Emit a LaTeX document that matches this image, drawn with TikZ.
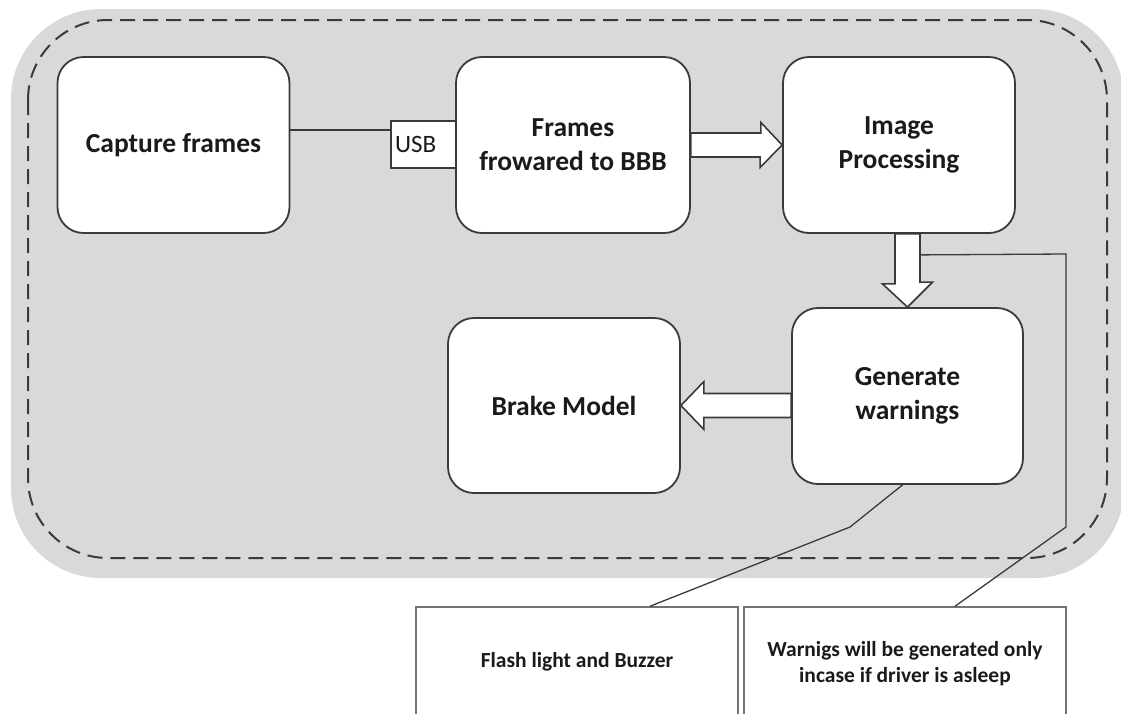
\documentclass[tikz,border=0pt]{standalone}
\usepackage{fontspec}
\setmainfont{Carlito}
\usetikzlibrary{calc}
\definecolor{bgfill}{HTML}{D9D9D9}
\definecolor{edgecol}{HTML}{3A3A3A}
\definecolor{txtcol}{HTML}{1A1A1A}
\begin{document}
\begin{tikzpicture}[x=1pt,y=-1pt,
  box/.style={draw=edgecol, line width=1.8pt, rounded corners=26pt, fill=white,
    minimum width=232pt, minimum height=176pt, inner sep=0pt, align=center,
    text=txtcol, font=\fontsize{27.5}{34}\selectfont\bfseries},
  usbbox/.style={draw=edgecol, line width=1.5pt, fill=white, text width=57pt,
    minimum height=47pt, inner xsep=4pt, inner ysep=0pt, align=left, text=txtcol,
    font=\fontsize{25}{28}\selectfont},
  callout/.style={draw=black!55, line width=1.5pt, fill=white, minimum width=322pt,
    minimum height=130pt, inner sep=0pt},
  callouttext/.style={align=center, text=txtcol, inner sep=0pt,
    font=\fontsize{21.5}{26}\selectfont\bfseries},
  blockarrow/.style={draw=edgecol, line width=1.6pt, fill=white, line join=miter},
  conn/.style={draw=edgecol, line width=1.3pt}
]
\useasboundingbox (0,0) rectangle (1121,713);
% background panel
\fill[bgfill, rounded corners=90pt] (11,9) rectangle (1124,578);
\draw[edgecol, line width=2pt, dash pattern=on 15pt off 8pt, rounded corners=80pt]
  (28,20) rectangle (1107,558);

% process boxes
\node[box] (cap) at (173.5,145) {Capture frames};
\node[box, minimum width=234pt] (fwd) at (573,145) {Frames\\frowared to BBB};
\node[box] (img) at (899,145) {Image\\Processing};
\node[box, minimum width=231pt] (gen) at (907.5,396) {Generate\\warnings};
\node[box, minimum height=175pt] (brk) at (564,405.5) {Brake Model};
\node[usbbox] (usb) at (423.5,144.5) {USB};

% callouts
\node[callout] (c1) at (577,672) {};
\node[callout] (c2) at (905,672) {};
\node[callouttext] (c1t) at (577,662) {Flash light and Buzzer};
\node[callouttext] (c2t) at (905,664) {Warnigs will be generated only\\incase if driver is asleep};

% USB connection
\draw[conn] ([yshift=15pt]cap.east) -- ([yshift=15pt]cap.east -| usb.west);

% block arrows
\draw[blockarrow] ($(fwd.east)+(0,-12)$) -- ++(70,0) -- ++(0,-10.5) -- (img.west)
  -- ($(img.west)+(-22,22.5)$) -- ++(0,-10.5) -- ($(fwd.east)+(0,12)$) -- cycle;
\draw[blockarrow] ($(gen.north |- img.south)+(-12.5,0)$) -- ++(0,50) -- ++(-12.5,0)
  -- (gen.north) -- ++(25,-25) -- ++(-12.5,0) -- ($(gen.north |- img.south)+(12.5,0)$) -- cycle;
\draw[blockarrow] ($(gen.west |- brk.east)+(0,-12)$) -- ($(brk.east)+(23,-12)$) -- ++(0,-12)
  -- (brk.east) -- ($(brk.east)+(23,24)$) -- ++(0,-12) -- ($(gen.west |- brk.east)+(0,12)$) -- cycle;

% annotation lines
\coordinate (a1) at ($(gen.north |- img.south)+(12.5,21)$);
\coordinate (a2) at (1066,254);
\coordinate (a3) at (1066,527);
\draw[conn] (a1) -- (a2) -- (a3) -- ([xshift=50pt]c2.north);
\coordinate (b1) at (850,527);
\draw[conn] ([xshift=-5pt]gen.south) -- (b1) -- ([xshift=73pt]c1.north);
\end{tikzpicture}
\end{document}
